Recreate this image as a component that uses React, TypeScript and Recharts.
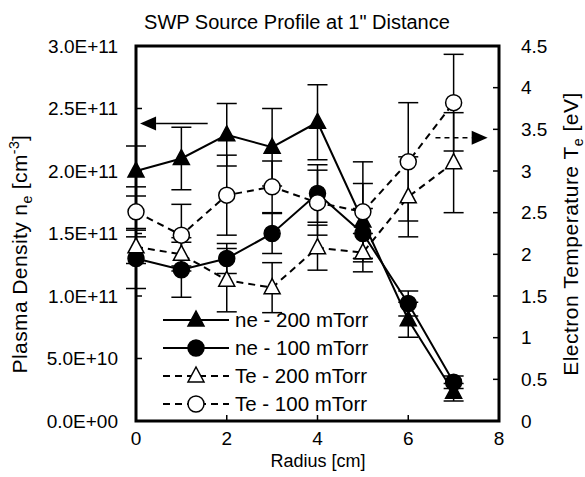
import React from "react";
import {
	ComposedChart,
	Line,
	XAxis,
	YAxis,
	ErrorBar,
	ReferenceArea,
	ReferenceLine,
	Customized,
} from "recharts";

// radius positions [cm]
const radius = [0, 1, 2, 3, 4, 5, 6, 7];

// plasma density [cm^-3]
const ne200 = [2.0e11, 2.1e11, 2.29e11, 2.19e11, 2.39e11, 1.6e11, 0.81e11, 0.23e11];
const ne200Err = [0.2e11, 0.25e11, 0.25e11, 0.31e11, 0.3e11, 0.3e11, 0.14e11, 0.07e11];
const ne100 = [1.3e11, 1.21e11, 1.3e11, 1.5e11, 1.82e11, 1.5e11, 0.94e11, 0.31e11];
const ne100Err = [0.24e11, 0.22e11, 0.12e11, 0.16e11, 0.23e11, 0.2e11, 0.1e11, 0.05e11];

// electron temperature [eV]
const te200 = [2.09, 2.0, 1.69, 1.6, 2.08, 2.02, 2.69, 3.1];
const te200Err = [0.2, 0.2, 0.38, 0.3, 0.27, 0.23, 0.48, 0.6];
const te100 = [2.51, 2.23, 2.71, 2.81, 2.62, 2.51, 3.11, 3.82];
const te100Err = [0.3, 0.37, 0.48, 0.31, 0.39, 0.6, 0.71, 0.58];

const xTicks = [0, 2, 4, 6, 8];
const neTicks = [0, 5e10, 1e11, 1.5e11, 2e11, 2.5e11, 3e11];
const teTicks = [0, 0.5, 1, 1.5, 2, 2.5, 3, 3.5, 4, 4.5];

const legendItems = [
	{ name: "ne - 200 mTorr", marker: "tri", filled: true, dashed: false },
	{ name: "ne - 100 mTorr", marker: "circle", filled: true, dashed: false },
	{ name: "Te - 200 mTorr", marker: "tri", filled: false, dashed: true },
	{ name: "Te - 100 mTorr", marker: "circle", filled: false, dashed: true },
];

const data = radius.map((r, i) => ({
	r,
	ne200: ne200[i],
	ne200Err: ne200Err[i],
	ne100: ne100[i],
	ne100Err: ne100Err[i],
	te200: te200[i],
	te200Err: te200Err[i],
	te100: te100[i],
	te100Err: te100Err[i],
}));

const FONT = "'Liberation Sans', Arial, sans-serif";

const fmtExp = (v: number) => {
	if (v === 0) return "0.0E+00";
	const e = Math.floor(Math.log10(v));
	const m = v / Math.pow(10, e);
	return `${m.toFixed(1)}E+${String(e).padStart(2, "0")}`;
};

const markerShape = (kind: string, filled: boolean, cx: number, cy: number, k?: any) => {
	const fill = filled ? "#000" : "#fff";
	if (kind === "tri") {
		return (
			<polygon
				key={k}
				points={`${cx},${cy - 9} ${cx - 8},${cy + 6} ${cx + 8},${cy + 6}`}
				fill={fill}
				stroke='#000'
				strokeWidth={1.5}
			/>
		);
	}
	return <circle key={k} cx={cx} cy={cy} r={8} fill={fill} stroke='#000' strokeWidth={1.5} />;
};

const dot = (kind: string, filled: boolean) => (p: any) => {
	if (p.cx == null || p.cy == null) return <g key={p.key} />;
	return markerShape(kind, filled, p.cx, p.cy, p.key);
};

const Arrow = ({ dashed }: { dashed: boolean }) => (p: any) => {
	const { x1, y1, x2, y2 } = p;
	const dir = x2 > x1 ? 1 : -1;
	const head = 16;
	return (
		<g>
			<line
				x1={x1}
				y1={y1}
				x2={x2 - dir * head}
				y2={y2}
				stroke='#000'
				strokeWidth={1.5}
				strokeDasharray={dashed ? "5 4" : undefined}
			/>
			<polygon
				points={`${x2},${y2} ${x2 - dir * head},${y2 - 7} ${x2 - dir * head},${y2 + 7}`}
				fill='#000'
			/>
		</g>
	);
};

const Texts = () => (
	<g fontFamily={FONT} fill='#000'>
		<text x={297} y={29} textAnchor='middle' fontSize={20}>
			SWP Source Profile at 1" Distance
		</text>
		<text x={318} y={467} textAnchor='middle' fontSize={18}>
			Radius [cm]
		</text>
		<text
			transform='translate(27,254) rotate(-90)'
			textAnchor='middle'
			fontSize={21}
			letterSpacing={0.4}>
			Plasma Density n
			<tspan dy={5} fontSize={14}>
				e
			</tspan>
			<tspan dy={-5}> [cm</tspan>
			<tspan dy={-8} fontSize={14}>
				-3
			</tspan>
			<tspan dy={8}>]</tspan>
		</text>
		<text
			transform='translate(578,234) rotate(-90)'
			textAnchor='middle'
			fontSize={21}
			letterSpacing={0.5}>
			Electron Temperature T
			<tspan dy={5} fontSize={14}>
				e
			</tspan>
			<tspan dy={-5}> [eV]</tspan>
		</text>
		{legendItems.map((it, i) => {
			const y = 320 + i * 28;
			return (
				<g key={it.name}>
					<line
						x1={163}
						x2={229}
						y1={y}
						y2={y}
						stroke='#000'
						strokeWidth={2}
						strokeDasharray={it.dashed ? "7 5" : undefined}
					/>
					{markerShape(it.marker, it.filled, 196, y)}
					<text x={235} y={y + 7} fontSize={20.5}>
						{it.name}
					</text>
				</g>
			);
		})}
	</g>
);

export default function App() {
	return (
		<div style={{ position: "absolute", left: 0, top: 0, background: "#fff" }}>
			<ComposedChart
				width={585}
				height={477}
				data={data}
				margin={{ top: 46, right: 0, left: 0, bottom: 0 }}>
				<XAxis
					dataKey='r'
					type='number'
					domain={[0, 8]}
					ticks={xTicks}
					axisLine={false}
					tickSize={-6}
					tickMargin={17}
					tickLine={{ stroke: "#000", strokeWidth: 1.5 }}
					tick={{ fill: "#000", fontSize: 19, fontFamily: FONT }}
					height={56}
				/>
				<YAxis
					yAxisId='left'
					domain={[0, 3e11]}
					ticks={neTicks}
					tickFormatter={fmtExp}
					axisLine={false}
					tickSize={-6}
					tickMargin={24}
					tickLine={{ stroke: "#000", strokeWidth: 1.5 }}
					tick={{ fill: "#000", fontSize: 19, fontFamily: FONT }}
					width={136}
				/>
				<YAxis
					yAxisId='right'
					orientation='right'
					domain={[0, 4.5]}
					ticks={teTicks}
					axisLine={false}
					tickSize={-6}
					tickMargin={28}
					tickLine={{ stroke: "#000", strokeWidth: 1.5 }}
					tick={{ fill: "#000", fontSize: 19, fontFamily: FONT }}
					width={86}
				/>
				<ReferenceArea
					yAxisId='left'
					x1={0}
					x2={8}
					y1={0}
					y2={3e11}
					fill='none'
					fillOpacity={0}
					stroke='#000'
					strokeWidth={3}
				/>
				<ReferenceLine
					yAxisId='left'
					segment={[
						{ x: 1.58, y: 2.38e11 },
						{ x: 0.09, y: 2.38e11 },
					]}
					shape={Arrow({ dashed: false })}
				/>
				<ReferenceLine
					yAxisId='right'
					segment={[
						{ x: 6.6, y: 3.4 },
						{ x: 7.75, y: 3.4 },
					]}
					shape={Arrow({ dashed: true })}
				/>
				<Line
					yAxisId='left'
					dataKey='ne200'
					stroke='#000'
					strokeWidth={2}
					dot={dot("tri", true)}
					activeDot={false}
					isAnimationActive={false}>
					<ErrorBar dataKey='ne200Err' direction='y' width={10} stroke='#000' strokeWidth={1.5} />
				</Line>
				<Line
					yAxisId='left'
					dataKey='ne100'
					stroke='#000'
					strokeWidth={2}
					dot={dot("circle", true)}
					activeDot={false}
					isAnimationActive={false}>
					<ErrorBar dataKey='ne100Err' direction='y' width={10} stroke='#000' strokeWidth={1.5} />
				</Line>
				<Line
					yAxisId='right'
					dataKey='te200'
					stroke='#000'
					strokeWidth={2}
					strokeDasharray='7 5'
					dot={dot("tri", false)}
					activeDot={false}
					isAnimationActive={false}>
					<ErrorBar dataKey='te200Err' direction='y' width={10} stroke='#000' strokeWidth={1.5} />
				</Line>
				<Line
					yAxisId='right'
					dataKey='te100'
					stroke='#000'
					strokeWidth={2}
					strokeDasharray='7 5'
					dot={dot("circle", false)}
					activeDot={false}
					isAnimationActive={false}>
					<ErrorBar dataKey='te100Err' direction='y' width={10} stroke='#000' strokeWidth={1.5} />
				</Line>
				<Customized component={Texts} />
			</ComposedChart>
		</div>
	);
}
